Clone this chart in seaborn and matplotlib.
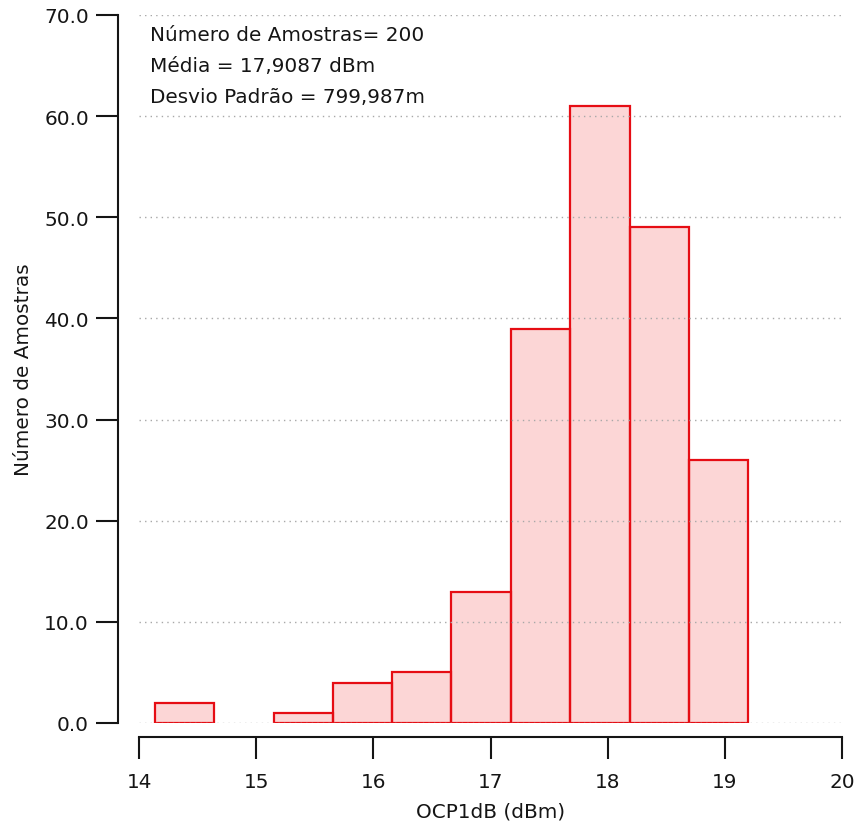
import numpy as np
import pandas as pd
import matplotlib
matplotlib.use("Agg")
import matplotlib.pyplot as plt
import seaborn as sns

# Histogram of OCP1dB measurements (200 samples)
bin_left = [14.135, 14.641, 15.148, 15.654, 16.161, 16.667, 17.174, 17.680, 18.187, 18.693]
bin_right_edge = 19.200
counts = [2, 0, 1, 4, 5, 13, 39, 61, 49, 26]

stats_lines = [
    "Número de Amostras= 200",
    "Média = 17,9087 dBm",
    "Desvio Padrão = 799,987m",
]
x_label = "OCP1dB (dBm)"
y_label = "Número de Amostras"
x_ticks = [14, 15, 16, 17, 18, 19, 20]
y_ticks = [0, 10, 20, 30, 40, 50, 60, 70]

edges = bin_left + [bin_right_edge]
centers = [(a + b) / 2 for a, b in zip(edges[:-1], edges[1:])]
df = pd.DataFrame({"ocp1db": centers, "n": counts})

sns.set_style("white")
plt.rcParams["font.family"] = ["DejaVu Sans"]
FS = 14.4
INK = "#151515"

fig = plt.figure(figsize=(8.59, 8.29), dpi=100)
ax = fig.add_axes([139 / 859, 1 - 724 / 829, (842 - 139) / 859, (724 - 16) / 829])

sns.histplot(
    data=df, x="ocp1db", weights="n", bins=edges, ax=ax,
    stat="count", element="bars",
    facecolor=(0.95, 0.0, 0.0, 0.16), edgecolor="#e60d14", linewidth=1.6,
)
# empty bins get no outline
for patch in ax.patches:
    patch.set_zorder(1)
    if patch.get_height() == 0:
        patch.set_visible(False)

ax.set_xlim(14, 20)
ax.set_ylim(0, 70)
ax.set_xticks(x_ticks)
ax.set_yticks(y_ticks)
ax.set_yticklabels([f"{v:.1f}" for v in y_ticks])

ax.set_axisbelow(False)
ax.grid(axis="y", linestyle=(0, (1, 3)), color="#a8a8a8", linewidth=1.0, zorder=3)
ax.grid(axis="x", visible=False)
for gl in ax.get_ygridlines():
    gl.set_clip_on(False)

for side in ("top", "right"):
    ax.spines[side].set_visible(False)
ax.spines["left"].set_position(("outward", 15))
ax.spines["bottom"].set_position(("outward", 10))
for side in ("left", "bottom"):
    ax.spines[side].set_color(INK)
    ax.spines[side].set_linewidth(1.5)

ax.tick_params(axis="both", direction="out", length=16, width=1.5,
               color=INK, labelsize=FS, labelcolor=INK,
               left=True, bottom=True)
ax.tick_params(axis="y", pad=5)
ax.tick_params(axis="x", pad=9)

ax.set_xlabel(x_label, fontsize=FS, color=INK, labelpad=8)
ax.set_ylabel(y_label, fontsize=FS, color=INK, labelpad=8)

for i, line in enumerate(stats_lines):
    ax.text(0.016, 0.986 - i * 0.0438, line, transform=ax.transAxes,
            fontsize=FS, color=INK, va="top", ha="left")

fig.savefig("out.png", dpi=100)
